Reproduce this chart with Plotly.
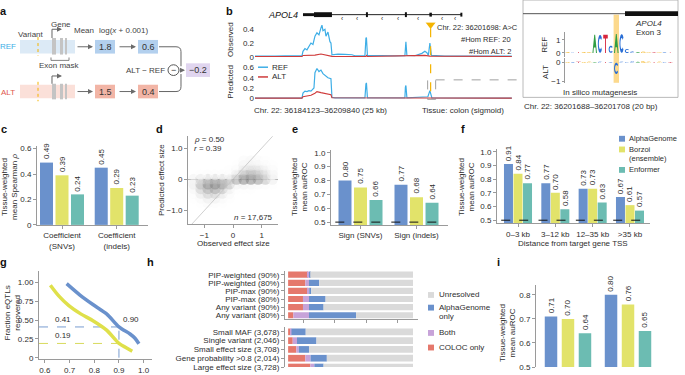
import math
import plotly.graph_objects as go

W, H = 685, 375
FONT = "Liberation Sans, Arial, Helvetica, sans-serif"
TXT = "#2e2e2e"
AXC = "#9a9a9a"
C_AG = "#6a91cc"
C_BZ = "#e2e36a"
C_EN = "#6cbcb2"
C_REF = "#3eaee6"
C_ALT = "#cf3b3b"
C_COLOC = "#e5786c"
C_BOTH = "#c7a3d9"
C_UNRES = "#dadada"
C_VAR = "#f4b400"

# ======================= DATA =======================
# panel a
a_ref_values = [1.8, 0.6]
a_alt_values = [1.5, 0.4]
a_delta = -0.2

# panel b (kb from chr22:36,184,123)
obs_kb = [0.0, 1.0, 2.0, 3.0, 4.0, 4.7, 4.8, 5.0, 5.2, 5.4, 5.6, 5.8, 6.0, 6.2, 6.4, 6.6, 6.7, 6.8, 7.0, 7.1,
          7.3, 7.5, 7.6, 7.7, 8.3, 9.0, 9.7, 10.0, 11.0, 11.1, 11.15, 11.25, 12.0, 13.0, 14.0, 15.0, 15.05, 15.1,
          15.2, 16.0, 16.7, 17.0, 17.2, 17.35, 17.5, 17.65, 19.0, 21.0, 23.0, 25.7]
obs_ref = [0.01, 0.015, 0.01, 0.012, 0.01, 0.012, 0.08, 0.12, 0.10, 0.15, 0.20, 0.18, 0.30, 0.35, 0.32, 0.42,
           0.46, 0.38, 0.40, 0.30, 0.36, 0.22, 0.20, 0.03, 0.04, 0.035, 0.03, 0.015, 0.015, 0.27, 0.28, 0.02,
           0.015, 0.01, 0.012, 0.015, 0.20, 0.22, 0.02, 0.015, 0.05, 0.08, 0.06, 0.02, 0.20, 0.02, 0.01, 0.012,
           0.01, 0.01]
obs_alt_kb = [0.0, 4.7, 4.8, 5.5, 6.0, 6.6, 7.0, 7.7, 11.1, 11.15, 11.25, 17.0, 17.5, 25.7]
obs_alt = [0.004, 0.004, 0.02, 0.02, 0.025, 0.04, 0.025, 0.006, 0.005, 0.02, 0.005, 0.02, 0.01, 0.004]
pred_kb = [0.0, 4.7, 4.8, 5.0, 5.2, 5.4, 5.6, 5.9, 6.0, 6.2, 6.4, 6.6, 6.8, 7.0, 7.3, 7.6, 7.7, 8.0, 11.0,
           11.1, 11.15, 11.25, 15.0, 15.05, 15.1, 15.2, 17.3, 17.5, 17.7, 25.7]
pred_ref = [0.005, 0.005, 0.10, 0.14, 0.13, 0.15, 0.14, 0.20, 0.50, 0.58, 0.52, 0.55, 0.48, 0.45, 0.40, 0.38,
            0.02, 0.01, 0.01, 0.28, 0.30, 0.01, 0.01, 0.22, 0.25, 0.01, 0.03, 0.15, 0.01, 0.005]
pred_alt_kb = [0.0, 4.7, 4.8, 5.2, 5.6, 6.0, 6.2, 6.6, 7.0, 7.6, 7.7, 25.7]
pred_alt = [0.003, 0.003, 0.03, 0.05, 0.06, 0.10, 0.13, 0.11, 0.09, 0.07, 0.01, 0.003]
region_kb = 25.717
variant_kb = 17.575
gene_span_kb = [4.8, 20.7]
exon_start_kb = [4.8, 5.9, 11.1, 15.0, 17.45, 20.55]
exon_end_kb = [5.9, 7.7, 11.3, 15.2, 17.7, 20.75]
chevron_kb = [8.7, 10.2, 12.7, 14.3, 16.3, 18.7, 20.0]

# in silico mutagenesis logo (20 bp)
logo_ref_seq = "GCTGGACTCACCCAGGTGCT"
logo_alt_seq = "GCTGGACTCCCCCAGGTGCT"
logo_ref = [0.05, 0.04, 0.06, 0.05, 0.07, 1.40, 1.40, 1.40, 0.55, 1.45, 1.45, 0.30,
            0.10, 0.07, 0.09, 0.06, 0.05, 0.06, 0.05, 0.04]
logo_alt = [0.04, 0.03, 0.05, 0.04, 0.05, 0.04, 0.05, 0.04, 0.03, -0.60, 0.05, 0.04,
            0.06, 0.05, 0.07, 0.05, 0.04, 0.05, 0.04, 0.03]
variant_pos = 10

# panel c
c_cats = ["Coefficient<br>(SNVs)", "Coefficient<br>(indels)"]
c_ag = [0.49, 0.45]
c_bz = [0.39, 0.29]
c_en = [0.24, 0.23]
c_ticks = [0, 0.2, 0.4, 0.6]
c_ticktext = ["0", "0.2", "0.4", "0.6"]

# panel d (density of 17,675 points)
d_x = [-1.375, -1.125, -0.875, -0.625, -0.375, -0.125, 0.125, 0.375, 0.625, 0.875, 1.125, 1.375]
d_y = [-0.75, -0.60, -0.45, -0.30, -0.15, 0.0, 0.15, 0.30, 0.45, 0.60]
d_density = [
    [0.00, 0.02, 0.05, 0.03, 0.01, 0.00, 0.00, 0.00, 0.00, 0.00, 0.00, 0.00],
    [0.01, 0.06, 0.15, 0.12, 0.06, 0.01, 0.00, 0.00, 0.00, 0.00, 0.00, 0.00],
    [0.03, 0.18, 0.35, 0.35, 0.20, 0.05, 0.00, 0.00, 0.00, 0.00, 0.00, 0.00],
    [0.08, 0.35, 0.55, 0.60, 0.45, 0.15, 0.02, 0.02, 0.01, 0.00, 0.00, 0.00],
    [0.15, 0.50, 0.75, 0.80, 0.70, 0.45, 0.10, 0.10, 0.08, 0.05, 0.03, 0.01],
    [0.10, 0.35, 0.50, 0.55, 0.50, 0.40, 0.60, 0.80, 0.80, 0.70, 0.45, 0.15],
    [0.00, 0.02, 0.03, 0.03, 0.03, 0.05, 0.30, 0.60, 0.65, 0.55, 0.35, 0.10],
    [0.00, 0.00, 0.00, 0.00, 0.00, 0.01, 0.08, 0.30, 0.40, 0.35, 0.20, 0.06],
    [0.00, 0.00, 0.00, 0.00, 0.00, 0.00, 0.02, 0.12, 0.18, 0.15, 0.08, 0.02],
    [0.00, 0.00, 0.00, 0.00, 0.00, 0.00, 0.00, 0.05, 0.08, 0.05, 0.02, 0.00],
]
d_ticks = [-1, 0, 1]
d_yticktext = ["−1.0", "0", "1.0"]
d_rho, d_r, d_n = "0.50", "0.39", "17,675"

# panel e
e_cats = ["Sign (SNVs)", "Sign (indels)"]
e_ag = [0.80, 0.77]
e_bz = [0.75, 0.68]
e_en = [0.66, 0.64]
auc_ticks = [0.5, 0.6, 0.7, 0.8, 0.9, 1.0]
auc_ticktext = ["0.5", "0.6", "0.7", "0.8", "0.9", "1.0"]

# panel f
f_cats = ["0–3 kb", "3–12 kb", "12–35 kb", ">35 kb"]
f_ag = [0.91, 0.77, 0.73, 0.67]
f_bz = [0.84, 0.70, 0.73, 0.61]
f_en = [0.77, 0.58, 0.63, 0.57]
chance = 0.5

# panel g
g_ag_x = [0.688, 0.742, 0.796, 0.850, 0.900, 0.945, 0.965, 0.981]
g_ag_y = [0.987, 0.835, 0.705, 0.584, 0.41, 0.316, 0.26, 0.186]
g_bz_x = [0.622, 0.656, 0.697, 0.745, 0.793, 0.850, 0.900, 0.931, 0.954]
g_bz_y = [0.965, 0.823, 0.693, 0.584, 0.497, 0.368, 0.19, 0.13, 0.087]
g_thresh = 0.90
g_ag_at = 0.41
g_bz_at = 0.19

# panel h
h_top_rows = ["PIP-weighted (90%)", "PIP-weighted (80%)", "PIP-max (90%)", "PIP-max (80%)",
              "Any variant (90%)", "Any variant (80%)"]
h_top_coloc = [0.159, 0.138, 0.156, 0.119, 0.119, 0.042]
h_top_both = [0.010, 0.029, 0.013, 0.048, 0.048, 0.125]
h_top_ag = [0.008, 0.082, 0.016, 0.133, 0.117, 0.377]
h_bot_rows = ["Small MAF (3,678)", "Single variant (2,046)", "Small effect size (3,708)",
              "Gene probability >0.8 (2,014)", "Large effect size (3,728)"]
h_bot_coloc = [0.019, 0.037, 0.066, 0.138, 0.178]
h_bot_both = [0.008, 0.034, 0.019, 0.042, 0.032]
h_bot_ag = [0.114, 0.156, 0.082, 0.130, 0.074]

# panel i
i_ag = [0.71, 0.80]
i_bz = [0.70, 0.76]
i_en = [0.64, 0.65]
i_ticks = [0.5, 0.6, 0.7, 0.8]
i_ticktext = ["0.5", "0.6", "0.7", "0.8"]

# ======================= HELPERS =======================
fig = go.Figure()
shapes, annots = [], []
axes = {}
XINFO, YINFO = {}, {}


def X(p):
    return p / W


def Y(p):
    return 1 - p / H


def text(x, y, s, size=8, color=TXT, xa="center", ya="middle", angle=0):
    annots.append(dict(xref="paper", yref="paper", x=X(x), y=Y(y), text=s, showarrow=False,
                       font=dict(size=size, color=color, family=FONT), xanchor=xa, yanchor=ya,
                       textangle=angle, borderpad=0))


def rect(x0, y0, x1, y1, fill, line=None, lw=0, dash=None, layer="above"):
    shapes.append(dict(type="rect", xref="paper", yref="paper", x0=X(x0), x1=X(x1), y0=Y(y1), y1=Y(y0),
                       fillcolor=fill, line=dict(color=line or "rgba(0,0,0,0)", width=lw, dash=dash),
                       layer=layer))


def seg(x0, y0, x1, y1, color, width=1, dash=None):
    shapes.append(dict(type="line", xref="paper", yref="paper", x0=X(x0), y0=Y(y0), x1=X(x1), y1=Y(y1),
                       line=dict(color=color, width=width, dash=dash)))


def ppath(cmds, color, width=1, fill=None):
    s = ""
    for c in cmds:
        v = c[1:]
        pts = [f"{X(v[i]):.5f},{Y(v[i + 1]):.5f}" for i in range(0, len(v), 2)]
        s += c[0] + " ".join(pts) + " "
    shapes.append(dict(type="path", xref="paper", yref="paper", path=s,
                       line=dict(color=color, width=width), fillcolor=fill or "rgba(0,0,0,0)"))


def arrow(x0, y0, x1, y1, color="#6b6b6b"):
    annots.append(dict(x=X(x1), y=Y(y1), ax=x0 - x1, ay=y0 - y1, xref="paper", yref="paper", axref="pixel",
                       ayref="pixel", showarrow=True, arrowhead=2, arrowsize=1, arrowwidth=1,
                       arrowcolor=color, text="", standoff=0, startstandoff=0))


VIS = dict(showline=True, linecolor=AXC, linewidth=1, ticks="outside", ticklen=3, tickcolor=AXC,
           tickwidth=1, showticklabels=True, tickfont=dict(size=8, color=TXT, family=FONT))


def set_x(n, left, right, rng, vis=False, **kw):
    d = dict(domain=[X(left), X(right)], range=rng, anchor=f"y{n}", showgrid=False, zeroline=False,
             showline=False, ticks="", showticklabels=False, fixedrange=True)
    if vis:
        d.update(VIS)
    d.update(kw)
    axes["xaxis" if n == 1 else f"xaxis{n}"] = d
    XINFO[n] = (left, right, rng)


def set_y(n, bottom, top, rng, vis=False, **kw):
    d = dict(domain=[Y(bottom), Y(top)], range=rng, anchor=f"x{n}", showgrid=False, zeroline=False,
             showline=False, ticks="", showticklabels=False, fixedrange=True)
    if vis:
        d.update(VIS)
    d.update(kw)
    axes["yaxis" if n == 1 else f"yaxis{n}"] = d
    YINFO[n] = (bottom, top, rng)


def ax_ref(n, k):
    return k if n == 1 else f"{k}{n}"


def to_px(n, xv, yv):
    left, right, xr = XINFO[n]
    bottom, top, yr = YINFO[n]
    return (left + (xv - xr[0]) / (xr[1] - xr[0]) * (right - left),
            bottom - (yv - yr[0]) / (yr[1] - yr[0]) * (bottom - top))


def bars(n, vals, color, center, width):
    """vertical bars drawn as filled rectangles on the subplot's axes, clipped at the axis floor"""
    for i, v in enumerate(vals):
        x0, x1 = i + center - width / 2, i + center + width / 2
        fig.add_trace(go.Scatter(x=[x0, x0, x1, x1, x0], y=[0, v, v, 0, 0], mode="lines", fill="toself",
                                 fillcolor=color, line=dict(width=0, color=color),
                                 xaxis=ax_ref(n, "x"), yaxis=ax_ref(n, "y"), showlegend=False,
                                 hoverinfo="skip"))
        px_, py_ = to_px(n, i + center, v)
        text(px_, py_ - 11.5, f"{v:.2f}", size=8, angle=-90)


def chance_line(n, ngroups):
    xs, ys = [], []
    for i in range(ngroups):
        xs += [i - 0.45, i + 0.45, None]
        ys += [chance, chance, None]
    fig.add_trace(go.Scatter(x=xs, y=ys, mode="lines", xaxis=ax_ref(n, "x"), yaxis=ax_ref(n, "y"),
                             line=dict(color="#111111", width=1, dash="dash"), showlegend=False,
                             hoverinfo="skip"))


# ======================= PANEL LABELS =======================
for lab, x, y in [("a", 4, 9), ("b", 229, 9), ("c", 4, 130), ("d", 159, 130), ("e", 295, 130),
                  ("f", 463, 130), ("g", 4, 267), ("h", 150, 267), ("i", 498, 267)]:
    text(x, y, f"<b>{lab}</b>", size=11, color="#111111", xa="center")

# ======================= PANEL A =======================
rect(20, 39, 75, 53, "#dceaf6", layer="below")
rect(20, 85, 75, 99, "#fbe0d9", layer="below")
for (y0, y1) in [(36, 55), (82, 102)]:
    seg(38, y0, 38, y1, C_VAR, 1, "dot")
for (y0, y1) in [(37, 54), (84, 100)]:
    for (x0, x1) in [(52, 56), (60, 63), (65, 67)]:
        rect(x0, y0, x1, y1, "#c4c4c4")
ppath([("M", 52, 37), ("L", 52, 28), ("L", 58, 28)], "#666666", 1)
arrow(57, 28, 62, 28)
ppath([("M", 52, 84), ("L", 52, 76), ("L", 58, 76)], "#666666", 1)
arrow(57, 76, 62, 76)
ppath([("M", 51, 57), ("L", 51, 60), ("L", 69, 60), ("L", 69, 57)], "#666666", 0.8)
text(59, 65, "Exon mask", size=8, color="#444444")
text(31, 33, "Variant", size=8, color="#444444")
text(61, 23, "Gene", size=8, color="#444444")
text(84, 29, "Mean", size=8, color="#444444")
text(123, 29, "log(<i>x</i> + 0.001)", size=8, color="#444444")
text(8, 46, "REF", size=8, color=C_REF)
text(8, 93, "ALT", size=8, color="#e0584e")
for yc, vals, col in [(46, a_ref_values, "#b3d0ee"), (92, a_alt_values, "#f2b5a6")]:
    arrow(76, yc, 93, yc)
    rect(95, yc - 7, 115, yc + 7, col)
    text(105, yc, f"{vals[0]:.1f}", size=9, color="#333333")
    arrow(118, yc, 136, yc)
    rect(138, yc - 7, 158, yc + 7, col)
    text(148, yc, f"{vals[1]:.1f}", size=9, color="#333333")
ppath([("M", 159, 46), ("L", 176, 46), ("Q", 181, 46, 181, 51), ("L", 181, 66)], "#666666", 1)
ppath([("M", 159, 92), ("L", 176, 92), ("Q", 181, 92, 181, 87), ("L", 181, 74)], "#666666", 1)
shapes.append(dict(type="circle", xref="paper", yref="paper", x0=X(168), x1=X(179), y0=Y(75.5), y1=Y(64.5),
                   line=dict(color="#555555", width=1), fillcolor="white"))
text(173.5, 69.5, "−", size=9, color="#333333")
arrow(179, 70, 185, 70)
text(166, 70, "ALT − REF", size=8, color="#444444", xa="right")
rect(186, 63, 210, 77, "#e0d5ef")
text(198, 70, f"{a_delta:.1f}".replace("-", "−"), size=9, color="#333333")

# ======================= PANEL B =======================
set_x(1, 255, 512, [0, region_kb])
set_y(1, 57, 21, [-0.01, 0.5], showticklabels=True, tickvals=[0, 0.2, 0.4], ticktext=["0", "0.2", "0.4"],
      tickfont=dict(size=8, color=TXT, family=FONT))
set_x(2, 255, 512, [0, region_kb])
set_y(2, 100, 62, [-0.02, 0.7], showticklabels=True, tickvals=[0, 0.2, 0.4, 0.6],
      ticktext=["0", "0.2", "0.4", "0.6"], tickfont=dict(size=8, color=TXT, family=FONT))
fig.add_trace(go.Scatter(x=obs_kb, y=obs_ref, mode="lines", line=dict(color=C_REF, width=1.2),
                         xaxis="x", yaxis="y", showlegend=False, hoverinfo="skip"))
fig.add_trace(go.Scatter(x=obs_alt_kb, y=obs_alt, mode="lines", line=dict(color=C_ALT, width=1.1),
                         xaxis="x", yaxis="y", showlegend=False, hoverinfo="skip"))
fig.add_trace(go.Scatter(x=pred_kb, y=pred_ref, mode="lines", line=dict(color=C_REF, width=1.2),
                         xaxis="x2", yaxis="y2", showlegend=False, hoverinfo="skip"))
fig.add_trace(go.Scatter(x=pred_alt_kb, y=pred_alt, mode="lines", line=dict(color=C_ALT, width=1.1),
                         xaxis="x2", yaxis="y2", showlegend=False, hoverinfo="skip"))
fig.add_trace(go.Scatter(x=[variant_kb], y=[0.47], mode="markers", xaxis="x", yaxis="y",
                         marker=dict(symbol="triangle-down", size=9, color=C_VAR),
                         showlegend=False, hoverinfo="skip"))
text(231, 39, "Observed", size=8, angle=-90)
text(231, 82, "Predicted", size=8, angle=-90)
# gene model
shapes.append(dict(type="line", xref="x", yref="paper", x0=gene_span_kb[0], x1=gene_span_kb[1],
                   y0=Y(13), y1=Y(13), line=dict(color="#222222", width=1)))
exon_h = [3, 5, 5, 5, 4, 4]
for s, e, hh in zip(exon_start_kb, exon_end_kb, exon_h):
    shapes.append(dict(type="rect", xref="x", yref="paper", x0=s, x1=e, y0=Y(13 + hh / 2),
                       y1=Y(13 - hh / 2), fillcolor="#111111", line=dict(width=0)))
for ck in chevron_kb:
    annots.append(dict(xref="x", yref="paper", x=ck, y=Y(12.8), text="‹", showarrow=False, borderpad=0,
                       font=dict(size=6.5, color="#222222", family=FONT)))
text(299, 13, "<i>APOL4</i>", size=9, color="#111111", xa="right")
shapes.append(dict(type="line", xref="x", yref="paper", x0=variant_kb, x1=variant_kb, y0=Y(27), y1=Y(100),
                   line=dict(color=C_VAR, width=1.2, dash="dash")))
text(436, 26.5, "Chr. 22: 36201698: A>C", size=7.5, xa="left")
text(512, 39, "#Hom REF: 20", size=7.5, xa="right")
text(512, 51, "#Hom ALT: 2", size=7.5, xa="right")
seg(258, 67, 268, 67, C_REF, 1.5)
text(271, 67, "REF", size=8, xa="left")
seg(258, 77, 268, 77, C_ALT, 1.5)
text(271, 77, "ALT", size=8, xa="left")
text(253, 111, "Chr. 22: 36184123–36209840 (25 kb)", size=8, xa="left")
text(421, 111, "Tissue: colon (sigmoid)", size=8, xa="left")
zoom_kb = [variant_kb - 0.3, variant_kb + 0.5]
shapes.append(dict(type="rect", xref="x2", yref="paper", x0=zoom_kb[0], x1=zoom_kb[1], y0=Y(100), y1=Y(80),
                   line=dict(color="#888888", width=0.8, dash="dash"), fillcolor="rgba(0,0,0,0)"))
zoom_px = 255 + zoom_kb[1] * (512 - 255) / region_kb
seg(zoom_px, 80, 523, 80, "#888888", 0.8, "dash")

# inset logo
rect(523, -2, 678, 98, "rgba(0,0,0,0)", line="#a8a8a8", lw=0.8)
seg(523, 12, 625, 12, "#555555", 1)
rect(625, 9.5, 678, 14.5, "#111111")
text(648, 22, "<i>APOL4</i>", size=8)
text(648, 31, "Exon 3", size=8)
set_x(3, 565, 673, [0.5, 20.5])
set_x(4, 565, 673, [0.5, 20.5])
set_y(3, 56.3, 31, [-0.3, 1.6], vis=True, tickvals=[0, 1], ticktext=["0", "1"], ticklen=2)
set_y(4, 83.6, 57.5, [-1.1, 0.25], vis=True, tickvals=[-1, 0], ticktext=["−1", "0"], ticklen=2)
shapes.append(dict(type="rect", xref="x3", yref="paper", x0=variant_pos - 0.5, x1=variant_pos + 0.5,
                   y0=Y(83), y1=Y(13), fillcolor="#fcd98d", line=dict(width=0), layer="below"))
text(545, 44, "REF", size=8, angle=-90)
text(545, 72, "ALT", size=8, angle=-90)
text(600, 93, "In silico mutagenesis", size=8)
text(523, 107, "Chr. 22: 36201688–36201708 (20 bp)", size=8, xa="left")

arc_o = [(0.5 + 0.5 * math.cos(math.radians(a)), 0.5 + 0.5 * math.sin(math.radians(a))) for a in range(40, 330, 20)]
arc_i = [(0.5 + 0.28 * math.cos(math.radians(a)), 0.5 + 0.3 * math.sin(math.radians(a))) for a in range(320, 30, -20)]
GLYPH = {
    "A": [[(0, 0), (0.4, 1), (0.6, 1), (1, 0), (0.78, 0), (0.68, 0.3), (0.32, 0.3), (0.22, 0)]],
    "T": [[(0, 1), (1, 1), (1, 0.8), (0.6, 0.8), (0.6, 0), (0.4, 0), (0.4, 0.8), (0, 0.8)]],
    "C": [arc_o + arc_i],
    "G": [arc_o + arc_i, [(0.55, 0.48), (1.0, 0.48), (1.0, 0.12), (0.8, 0.12), (0.8, 0.32), (0.55, 0.32)]],
}
GCOL = {"A": "#2f9e44", "C": "#2a6fd6", "T": "#d7263d", "G": "#f2a900"}


def glyph(letter, xc, hgt, xr, yr):
    y0, y1 = (0, hgt) if hgt >= 0 else (hgt, 0)
    x0, x1 = xc - 0.42, xc + 0.42
    s = ""
    for poly in GLYPH[letter]:
        pts = [(x0 + (x1 - x0) * u, y0 + (y1 - y0) * v) for u, v in poly]
        s += "M" + " L".join(f"{a:.4f},{b:.4f}" for a, b in pts) + " Z "
    shapes.append(dict(type="path", xref=xr, yref=yr, path=s, fillcolor=GCOL[letter],
                       line=dict(width=0)))


for i, (b, hgt) in enumerate(zip(logo_ref_seq, logo_ref)):
    glyph(b, i + 1, hgt, "x3", "y3")
for i, (b, hgt) in enumerate(zip(logo_alt_seq, logo_alt)):
    glyph(b, i + 1, hgt, "x4", "y4")

# ======================= PANEL C =======================
set_x(5, 37, 148, [-0.457, 1.572], vis=True, tickvals=[0, 1], ticktext=c_cats)
set_y(5, 229, 148, [0, 0.62], vis=True, tickvals=c_ticks, ticktext=c_ticktext)
for vals, col, off in [(c_ag, C_AG, -0.283), (c_bz, C_BZ, 0.0), (c_en, C_EN, 0.283)]:
    bars(5, vals, col, off, 0.238)
text(10, 190, "Tissue-weighted<br>mean Spearman <i>ρ</i>", size=8, angle=-90)

# ======================= PANEL D =======================
set_x(6, 188, 278, [-1.57, 1.57], vis=True, tickvals=d_ticks, ticktext=["−1", "0", "1"])
set_y(6, 228, 138, [-1.43, 1.38], vis=True, tickvals=d_ticks, ticktext=d_yticktext,
      zeroline=True, zerolinecolor="#777777", zerolinewidth=0.8)
dens_x, dens_y, dens_v = [], [], []
for yi, row in zip(d_y, d_density):
    for xi, v in zip(d_x, row):
        if v > 0:
            dens_x.append(xi)
            dens_y.append(yi)
            dens_v.append(v)
fig.add_trace(go.Scatter(x=dens_x, y=dens_y, mode="markers", xaxis="x6", yaxis="y6",
                         marker=dict(symbol="circle", size=11, color=dens_v, cmin=0, cmax=1.0,
                                     colorscale=[[0, "#ffffff"], [0.2, "#e6e6e6"], [1, "#6a6a6a"]],
                                     opacity=0.55, line=dict(width=0)),
                         showlegend=False, hoverinfo="skip"))
fig.add_trace(go.Scatter(x=[-1.6, 1.6], y=[-1.6, 1.6], mode="lines", xaxis="x6", yaxis="y6",
                         line=dict(color="#c4c4c4", width=0.8), showlegend=False, hoverinfo="skip"))
text(193, 141, f"<i>ρ</i> = {d_rho}", size=8, xa="left")
text(193, 150, f"<i>r</i> = {d_r}", size=8, xa="left")
text(274, 221, f"<i>n</i> = {d_n}", size=8, xa="right")
text(161, 183, "Predicted effect size", size=8, angle=-90)
text(233, 248, "Observed effect size", size=8)

# ======================= PANEL E =======================
set_x(7, 331, 448, [-0.527, 1.5625], vis=True, tickvals=[0, 1], ticktext=e_cats)
set_y(7, 229, 152, [0.48, 1.02], vis=True, tickvals=auc_ticks, ticktext=auc_ticktext)
for vals, col, off in [(e_ag, C_AG, -0.277), (e_bz, C_BZ, 0.0), (e_en, C_EN, 0.277)]:
    bars(7, vals, col, off, 0.232)
chance_line(7, 2)
text(300, 190, "Tissue-weighted<br>mean auROC", size=8, angle=-90)

# ======================= PANEL F =======================
set_x(8, 497, 650, [-0.5625, 3.536], vis=True, tickvals=[0, 1, 2, 3], ticktext=f_cats)
set_y(8, 227, 151, [0.48, 1.02], vis=True, tickvals=auc_ticks, ticktext=auc_ticktext)
for vals, col, off in [(f_ag, C_AG, -0.255), (f_bz, C_BZ, 0.0), (f_en, C_EN, 0.255)]:
    bars(8, vals, col, off, 0.241)
chance_line(8, 4)
text(467, 190, "Tissue-weighted<br>mean auROC", size=8, angle=-90)
text(573, 248, "Distance from target gene TSS", size=8)
for name, col, yc in [("AlphaGenome", C_AG, 140.5), ("Borzoi", C_BZ, 151.5), ("Enformer", C_EN, 172.5)]:
    rect(619, yc - 3, 625, yc + 3, col)
    text(628, yc, name, size=7.5, xa="left")
text(628, 161, "(ensemble)", size=7.5, xa="left")

# ======================= PANEL G =======================
set_x(9, 39, 152, [0.576, 1.034], vis=True, tickvals=[0.6, 0.7, 0.8, 0.9, 1.0],
      ticktext=["0.6", "0.7", "0.8", "0.9", "1.0"])
set_y(9, 367, 276, [-0.02, 1.16], vis=True, tickvals=[0, 0.25, 0.5, 0.75, 1.0],
      ticktext=["0", "0.25", "0.50", "0.75", "1.00"])
fig.add_trace(go.Scatter(x=[0.576, g_thresh], y=[g_ag_at, g_ag_at], mode="lines", xaxis="x9", yaxis="y9",
                         line=dict(color=C_AG, width=0.9, dash="dash"), showlegend=False, hoverinfo="skip"))
fig.add_trace(go.Scatter(x=[0.576, g_thresh], y=[g_bz_at, g_bz_at], mode="lines", xaxis="x9", yaxis="y9",
                         line=dict(color="#d4d64a", width=0.9, dash="dash"), showlegend=False, hoverinfo="skip"))
fig.add_trace(go.Scatter(x=[g_thresh, g_thresh], y=[0, g_ag_at], mode="lines", xaxis="x9", yaxis="y9",
                         line=dict(color=C_AG, width=0.9, dash="dash"), showlegend=False, hoverinfo="skip"))
fig.add_trace(go.Scatter(x=g_bz_x, y=g_bz_y, mode="lines", xaxis="x9", yaxis="y9",
                         line=dict(color="#dfe04a", width=3.5, shape="spline", smoothing=0.8), showlegend=False,
                         hoverinfo="skip"))
fig.add_trace(go.Scatter(x=g_ag_x, y=g_ag_y, mode="lines", xaxis="x9", yaxis="y9",
                         line=dict(color=C_AG, width=3.5, shape="spline", smoothing=0.8), showlegend=False,
                         hoverinfo="skip"))
for val, yv, xv, xa in [(f"{g_ag_at:.2f}", g_ag_at, 0.673, "center"), (f"{g_bz_at:.2f}", g_bz_at, 0.673, "center"),
                        (f"{g_thresh:.2f}", g_ag_at, g_thresh + 0.01, "left")]:
    annots.append(dict(xref="x9", yref="y9", x=xv, y=yv, text=val, showarrow=False, xanchor=xa,
                       yanchor="bottom", yshift=1, font=dict(size=8, color=TXT, family=FONT)))
text(12, 320, "Fraction eQTLs<br>recovered", size=8, angle=-90)

# ======================= PANEL H =======================
set_x(10, 285, 418, [-0.025, 1.04], vis=True, showticklabels=False,
      tickvals=[0.125, 0.375, 0.625, 0.875])
set_y(10, 326, 276, [5.5, -0.5], vis=True, tickvals=list(range(len(h_top_rows))), ticktext=h_top_rows)
set_x(11, 285, 418, [-0.025, 1.04])
set_y(11, 375, 334, [4.0, -0.54], vis=True, tickvals=list(range(len(h_bot_rows))), ticktext=h_bot_rows)


def hstack(n, coloc, both, ag):
    rows = list(range(len(coloc)))
    b1 = [0.0] * len(coloc)
    b2 = [c for c in coloc]
    b3 = [c + b for c, b in zip(coloc, both)]
    b4 = [c + b + a for c, b, a in zip(coloc, both, ag)]
    for vals, base, col in [(coloc, b1, C_COLOC), (both, b2, C_BOTH), (ag, b3, C_AG),
                            ([1 - v for v in b4], b4, C_UNRES)]:
        fig.add_trace(go.Bar(y=rows, x=vals, base=base, orientation="h", xaxis=f"x{n}", yaxis=f"y{n}",
                             width=0.76, marker=dict(color=col, line=dict(width=0)), showlegend=False,
                             hoverinfo="skip"))


hstack(10, h_top_coloc, h_top_both, h_top_ag)
hstack(11, h_bot_coloc, h_bot_both, h_bot_ag)
for name, col, yc in [("Unresolved", C_UNRES, 301), ("AlphaGenome", C_AG, 314), ("Both", C_BOTH, 340),
                      ("COLOC only", C_COLOC, 355)]:
    rect(428, yc - 3, 434, yc + 3, col)
    text(438, yc, name, size=8, xa="left")
text(438, 323, "only", size=8, xa="left")

# ======================= PANEL I =======================
set_x(12, 536, 660, [-0.533, 1.533])
set_y(12, 375, 291, [0.5, 0.84], vis=True, tickvals=i_ticks, ticktext=i_ticktext)
for vals, col, off in [(i_ag, C_AG, -0.283), (i_bz, C_BZ, 0.0), (i_en, C_EN, 0.283)]:
    bars(12, vals, col, off, 0.208)
text(508, 340, "Tissue-weighted<br>mean auROC", size=8, angle=-90)

fig.update_layout(width=W, height=H, margin=dict(l=0, r=0, t=0, b=0), paper_bgcolor="white",
                  plot_bgcolor="white", showlegend=False, barmode="overlay",
                  font=dict(family=FONT, size=8, color=TXT), shapes=shapes, annotations=annots, **axes)
fig.write_html("out.html", config={"displayModeBar": False},
               post_script="document.body.style.margin='0';document.body.style.padding='0';")
